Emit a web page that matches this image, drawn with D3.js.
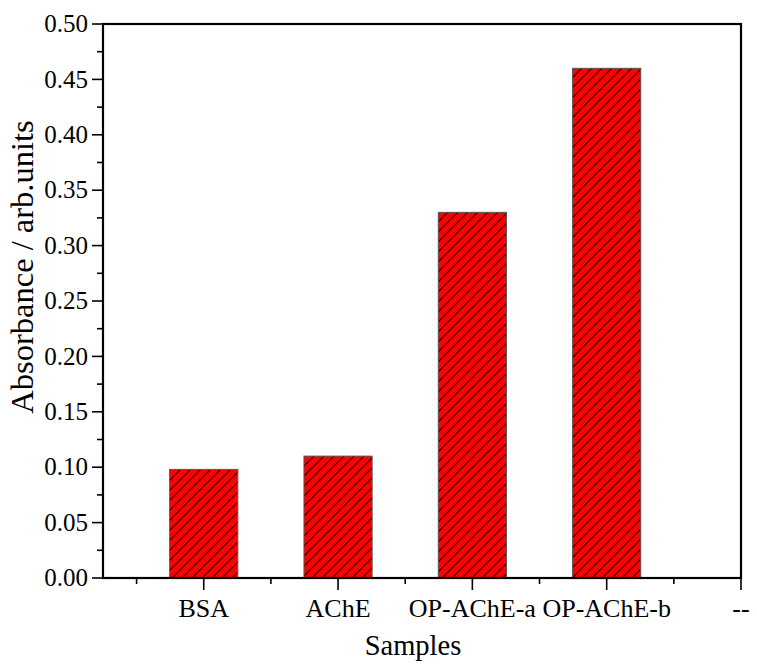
<!DOCTYPE html>
<html>
<head>
<meta charset="utf-8" />
<style>
body { margin: 0; background: white; }
svg { display: block; }
text { font-family: "Liberation Serif", "Times New Roman", serif; fill: black; }
</style>
<script src="https://cdn.jsdelivr.net/npm/d3@7"></script>
</head>
<body>
<div id="chart"></div>
<script>
// data
var samples = ["BSA", "AChE", "OP-AChE-a", "OP-AChE-b"];
var absorbance = [0.098, 0.11, 0.33, 0.46];
var xTickLabels = ["BSA", "AChE", "OP-AChE-a", "OP-AChE-b", "--"];
var yTicks = [0, 0.05, 0.10, 0.15, 0.20, 0.25, 0.30, 0.35, 0.40, 0.45, 0.50];

var W = 757, H = 669;
var plotL = 103, plotR = 741, plotT = 24, plotB = 578;

var svg = d3.select("#chart").append("svg")
  .attr("width", W)
  .attr("height", H);

// hatch for the bars
var defs = svg.append("defs");
var pat = defs.append("pattern")
  .attr("id", "hatch")
  .attr("patternUnits", "userSpaceOnUse")
  .attr("width", 10)
  .attr("height", 10);
pat.append("rect").attr("width", 10).attr("height", 10).attr("fill", "#ff0000");
pat.append("path")
  .attr("d", "M-1,1 l2,-2 M0,10 l10,-10 M9,11 l2,-2")
  .attr("stroke", "#000")
  .attr("stroke-width", 1.2);

// category i sits at position i+1, axis runs 0.25 .. 5
var x = d3.scaleLinear().domain([0.25, 5]).range([plotL, plotR]);
var y = d3.scaleLinear().domain([0, 0.5]).range([plotB, plotT]);

var barW = x(1.5) - x(1) + 1;

svg.selectAll(".bar")
  .data(absorbance)
  .enter().append("rect")
  .attr("class", "bar")
  .attr("x", function(d, i) { return x(i + 1) - barW / 2; })
  .attr("y", function(d) { return y(d); })
  .attr("width", barW)
  .attr("height", function(d) { return y(0) - y(d); })
  .attr("fill", "url(#hatch)")
  .attr("stroke", "#555")
  .attr("stroke-width", 1);

// y axis: major ticks labelled, minor in between
var yMinor = d3.range(0.025, 0.5, 0.05);
var yAxis = svg.append("g").attr("transform", "translate(" + plotL + ",0)");
yAxis.selectAll(".ymaj")
  .data(yTicks)
  .enter().append("line")
  .attr("x1", -11).attr("x2", 0)
  .attr("y1", function(d) { return y(d); })
  .attr("y2", function(d) { return y(d); })
  .attr("stroke", "black").attr("stroke-width", 1.6);
yAxis.selectAll(".ymin")
  .data(yMinor)
  .enter().append("line")
  .attr("x1", -6).attr("x2", 0)
  .attr("y1", function(d) { return y(d); })
  .attr("y2", function(d) { return y(d); })
  .attr("stroke", "black").attr("stroke-width", 1.6);
yAxis.selectAll(".ylab")
  .data(yTicks)
  .enter().append("text")
  .attr("x", -15)
  .attr("y", function(d) { return y(d); })
  .attr("dy", "0.33em")
  .attr("text-anchor", "end")
  .attr("font-size", "25px")
  .text(function(d) { return d3.format(".2f")(d); });

// x axis
var xMajor = [1, 2, 3, 4, 5];
var xMinor = [0.5, 1.5, 2.5, 3.5, 4.5];
var xAxis = svg.append("g").attr("transform", "translate(0," + plotB + ")");
xAxis.selectAll(".xmaj")
  .data(xMajor)
  .enter().append("line")
  .attr("x1", function(d) { return x(d); })
  .attr("x2", function(d) { return x(d); })
  .attr("y1", 0).attr("y2", 12)
  .attr("stroke", "black").attr("stroke-width", 1.6);
xAxis.selectAll(".xmin")
  .data(xMinor)
  .enter().append("line")
  .attr("x1", function(d) { return x(d); })
  .attr("x2", function(d) { return x(d); })
  .attr("y1", 0).attr("y2", 6)
  .attr("stroke", "black").attr("stroke-width", 1.6);
xAxis.selectAll(".xlab")
  .data(xTickLabels)
  .enter().append("text")
  .attr("x", function(d, i) { return x(i + 1); })
  .attr("y", 39)
  .attr("text-anchor", "middle")
  .attr("font-size", "26px")
  .text(function(d) { return d; });

// frame
svg.append("rect")
  .attr("x", plotL).attr("y", plotT)
  .attr("width", plotR - plotL).attr("height", plotB - plotT)
  .attr("fill", "none")
  .attr("stroke", "black")
  .attr("stroke-width", 2.2);

// axis titles
svg.append("text")
  .attr("x", 413).attr("y", 655)
  .attr("text-anchor", "middle")
  .attr("font-size", "28.5px")
  .text("Samples");

svg.append("text")
  .attr("transform", "translate(33,267)rotate(-90)")
  .attr("text-anchor", "middle")
  .attr("font-size", "32.5px")
  .text("Absorbance / arb.units");
</script>
</body>
</html>
